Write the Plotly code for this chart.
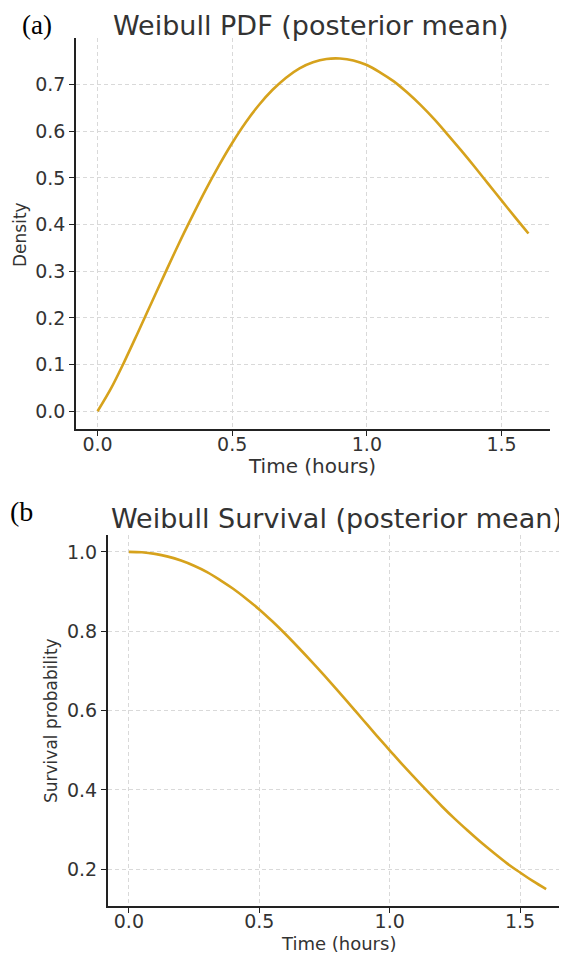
import plotly.graph_objects as go

# Time grid (hours) and values
time_hours = [0.00, 0.05, 0.10, 0.15, 0.20, 0.25, 0.30, 0.35, 0.40, 0.45, 0.50,
              0.55, 0.60, 0.65, 0.70, 0.75, 0.80, 0.85, 0.90, 0.95, 1.00,
              1.05, 1.10, 1.15, 1.20, 1.25, 1.30, 1.35, 1.40, 1.45, 1.50,
              1.55, 1.60]
pdf_density = [0.000, 0.049, 0.107, 0.169, 0.232, 0.295, 0.357, 0.416, 0.473, 0.526, 0.575,
               0.619, 0.657, 0.689, 0.715, 0.735, 0.748, 0.755, 0.756, 0.752, 0.742,
               0.726, 0.707, 0.683, 0.656, 0.626, 0.593, 0.559, 0.524, 0.488, 0.452,
               0.416, 0.381]
survival_prob = [1.000, 0.999, 0.995, 0.988, 0.978, 0.965, 0.949, 0.929, 0.907, 0.882, 0.855,
                 0.825, 0.793, 0.759, 0.724, 0.688, 0.651, 0.613, 0.575, 0.537, 0.500,
                 0.463, 0.428, 0.393, 0.359, 0.327, 0.297, 0.268, 0.241, 0.215, 0.192,
                 0.170, 0.150]

x_ticks = [0.0, 0.5, 1.0, 1.5]
x_tick_text = ["0.0", "0.5", "1.0", "1.5"]
pdf_ticks = [0.0, 0.1, 0.2, 0.3, 0.4, 0.5, 0.6, 0.7]
pdf_tick_text = ["0.0", "0.1", "0.2", "0.3", "0.4", "0.5", "0.6", "0.7"]
surv_ticks = [0.2, 0.4, 0.6, 0.8, 1.0]
surv_tick_text = ["0.2", "0.4", "0.6", "0.8", "1.0"]

# page body has an 8px default margin; figure fills the rest of the window
OFF = 8
W, H = 567 - OFF, 954 - OFF
LINE_COLOR = "#D6A21C"
FONT = "DejaVu Sans"
TEXT_COLOR = "#333333"

def px(x):
    return (x - OFF) / W

def py(y):
    return 1 - (y - OFF) / H

fig = go.Figure()
fig.add_trace(go.Scatter(x=time_hours, y=pdf_density, mode="lines",
                         line=dict(color=LINE_COLOR, width=2.6, shape="spline"),
                         xaxis="x", yaxis="y", showlegend=False))
fig.add_trace(go.Scatter(x=time_hours, y=survival_prob, mode="lines",
                         line=dict(color=LINE_COLOR, width=2.6, shape="spline"),
                         xaxis="x2", yaxis="y2", showlegend=False))

axis_common = dict(
    showline=True, mirror=False, linecolor="#222222",
    ticks="outside", ticklen=5, tickwidth=1.2, tickcolor="#222222",
    showgrid=True, gridcolor="#d9d9d9", griddash="4px,3px", gridwidth=1,
    zeroline=False, tickfont=dict(family=FONT, size=19, color=TEXT_COLOR),
)

fig.update_layout(
    width=W, height=H,
    margin=dict(l=0, r=0, t=0, b=0),
    paper_bgcolor="white", plot_bgcolor="white",
    xaxis=dict(domain=[px(76), px(550)], range=[-0.08, 1.68], anchor="y",
               tickvals=x_ticks, ticktext=x_tick_text, linewidth=1.6,
               ticklabelstandoff=-8, **axis_common),
    yaxis=dict(domain=[py(429), py(38)], range=[-0.038, 0.80], anchor="x",
               tickvals=pdf_ticks, ticktext=pdf_tick_text, linewidth=1.6, **axis_common),
    xaxis2=dict(domain=[px(108), 1.0], range=[-0.08, 1.68], anchor="y2",
                tickvals=x_ticks, ticktext=x_tick_text, linewidth=2,
                ticklabelstandoff=-8, **axis_common),
    yaxis2=dict(domain=[py(906), py(535)], range=[0.1075, 1.0425], anchor="x2",
                tickvals=surv_ticks, ticktext=surv_tick_text, linewidth=2, **axis_common),
)

annotations = [
    dict(text="(a)", x=px(37), y=1.0, yanchor="top",
         font=dict(family="Liberation Serif", size=27, color="black")),
    dict(text="(b", x=px(21), y=py(511),
         font=dict(family="Liberation Serif", size=28, color="black")),
    dict(text="Weibull PDF (posterior mean)", x=px(311), y=1.0, yanchor="top",
         font=dict(family=FONT, size=27, color=TEXT_COLOR)),
    dict(text="Weibull Survival (posterior mean)", x=px(337), y=py(518),
         font=dict(family=FONT, size=27, color=TEXT_COLOR)),
    dict(text="Time (hours)", x=px(312), y=py(466),
         font=dict(family=FONT, size=20, color=TEXT_COLOR)),
    dict(text="Time (hours)", x=px(338), y=py(943),
         font=dict(family=FONT, size=18, color=TEXT_COLOR)),
    dict(text="Density", x=px(8), xanchor="left", y=py(235), textangle=-90,
         font=dict(family=FONT, size=17, color=TEXT_COLOR)),
    dict(text="Survival probability", x=px(51), y=py(721), textangle=-90,
         font=dict(family=FONT, size=17, color=TEXT_COLOR)),
]
for a in annotations:
    a.setdefault("xanchor", "center")
    a.setdefault("yanchor", "middle")
    a.update(xref="paper", yref="paper", showarrow=False)
fig.update_layout(annotations=annotations)

fig.write_html("out.html")
